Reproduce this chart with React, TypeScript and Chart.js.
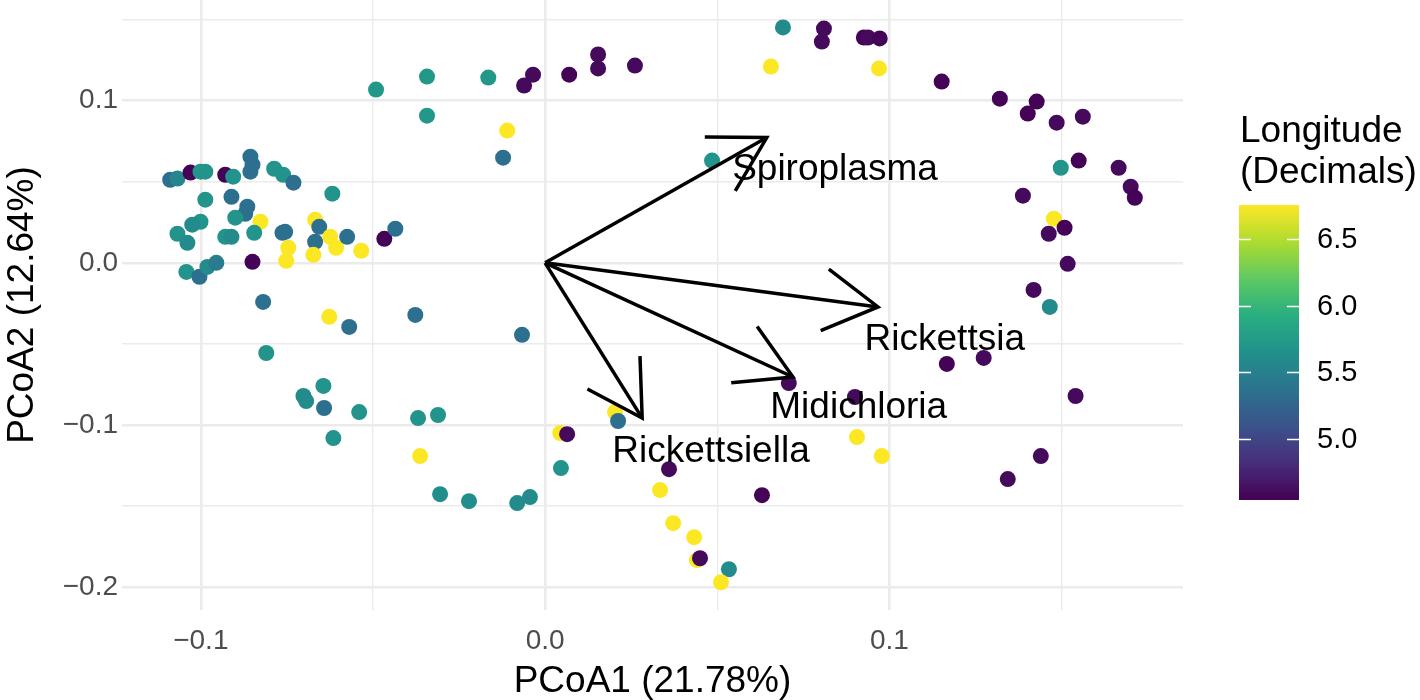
import React, { useEffect, useRef } from "react";
import { Chart, registerables } from "chart.js";

Chart.register(...registerables);

// ---- data ----
const pcoa1 = [
  -0.1089, -0.1068, -0.103, -0.1001, -0.0987, -0.0929, -0.0906, -0.0856, -0.085, -0.0856,
  -0.0787, -0.0761, -0.0731, -0.0618, -0.0987, -0.0911, -0.0865, -0.0871, -0.09, -0.0827,
  -0.1001, -0.1025, -0.1068, -0.1039, -0.0929, -0.0911, -0.0845, -0.0763, -0.0755, -0.085,
  -0.1042, -0.1004, -0.0981, -0.0955, -0.0668, -0.0656, -0.0746, -0.0752, -0.0668, -0.0673,
  -0.0624, -0.0607, -0.0575, -0.0534, -0.0467, -0.0435, -0.0819, -0.0627, -0.0569, -0.0377,
  -0.081, -0.0644, -0.0702, -0.0694, -0.0642, -0.054, -0.0615, -0.0369, -0.0311, -0.0363,
  -0.0305, -0.0221, -0.0081, -0.0044, -0.0491, -0.0343, -0.0343, -0.0165, -0.011, -0.0122,
  -0.0061, -0.0035, 0.007, 0.0154, 0.0154, 0.0261, 0.0485, 0.0691, 0.081, 0.0804,
  0.0926, 0.0938, 0.0972, 0.0656, 0.097, 0.1152, 0.1321, 0.1428, 0.1402, 0.1486,
  0.1562, 0.155, 0.1498, 0.1666, 0.1701, 0.1713, 0.1388, 0.1478, 0.1509, 0.1463,
  0.1518, 0.1419, 0.1466, 0.1167, 0.1274, 0.1541, 0.09, 0.0708, 0.0906, 0.0978,
  0.144, 0.1344, -0.0067, 0.0203, 0.0212, 0.0044, 0.0064, 0.0046, 0.036, 0.0334,
  0.063, 0.0372, 0.0433, 0.0441, 0.045, 0.0534, 0.0511,
];
const pcoa2 = [
  0.0512, 0.0519, 0.0556, 0.0562, 0.0562, 0.0543, 0.0531, 0.0654, 0.0605, 0.0562,
  0.058, 0.0543, 0.0494, 0.0426, 0.0389, 0.0407, 0.0346, 0.0302, 0.0278, 0.0253,
  0.0253, 0.0235, 0.0179, 0.0123, 0.016, 0.016, 0.0185, 0.0185, 0.0191, 0.0006,
  -0.0056, -0.0086, -0.0025, 0.0, 0.0265, 0.0222, 0.0093, 0.0012, 0.013, 0.0049,
  0.016, 0.0093, 0.016, 0.0074, 0.0148, 0.021, -0.0241, -0.0333, -0.0395, -0.0321,
  -0.0556, -0.0759, -0.0821, -0.0852, -0.0895, -0.092, -0.108, -0.0957, -0.0938, -0.1191,
  -0.1426, -0.1469, -0.1481, -0.1444, 0.1068, 0.1148, 0.0907, 0.1142, 0.0815, 0.0648,
  0.1093, 0.116, 0.116, 0.1284, 0.1198, 0.1216, 0.063, 0.1451, 0.1444, 0.1364,
  0.1389, 0.1389, 0.1383, 0.121, 0.1198, 0.1117, 0.1012, 0.0994, 0.092, 0.0864,
  0.0901, 0.063, 0.0586, 0.0586, 0.0469, 0.0401, 0.0414, 0.0272, 0.0216, 0.0179,
  -0.0006, -0.0167, -0.0272, -0.0623, -0.0586, -0.0821, -0.0827, -0.0741, -0.1074, -0.1191,
  -0.1191, -0.1333, -0.0444, -0.092, -0.0975, -0.1049, -0.1056, -0.1265, -0.1272, -0.1401,
  -0.1432, -0.1605, -0.1691, -0.1833, -0.1821, -0.1889, -0.1969,
];
const longitude = [
  5.35, 5.55, 4.56, 5.68, 5.68, 4.56, 5.68, 5.35, 5.35, 5.35,
  5.68, 5.68, 5.35, 5.68, 5.68, 5.35, 5.35, 5.35, 5.68, 6.75,
  5.68, 5.6, 5.68, 5.6, 5.68, 5.6, 5.68, 5.35, 5.35, 4.56,
  5.68, 5.35, 5.6, 5.45, 6.75, 5.35, 6.75, 6.75, 5.35, 6.75,
  6.75, 6.75, 5.35, 6.75, 4.56, 5.35, 5.35, 6.75, 5.35, 5.35,
  5.68, 5.68, 5.6, 5.6, 5.35, 5.68, 5.68, 5.68, 5.68, 6.75,
  5.62, 5.62, 5.6, 5.6, 5.72, 5.72, 5.72, 5.72, 6.75, 5.35,
  4.6, 4.6, 4.56, 4.6, 4.6, 4.6, 5.68, 5.6, 4.6, 4.6,
  4.56, 4.6, 4.56, 6.75, 6.75, 4.56, 4.56, 4.56, 4.56, 4.6,
  4.6, 4.56, 5.68, 4.6, 4.6, 4.56, 4.6, 6.75, 4.56, 4.6,
  4.6, 4.6, 5.6, 4.56, 4.6, 4.6, 4.6, 4.6, 6.75, 6.75,
  4.6, 4.6, 5.35, 6.75, 5.35, 6.75, 4.6, 5.68, 4.6, 6.75,
  4.56, 6.75, 6.75, 6.75, 4.6, 5.6, 6.75,
];

const taxa = ["Spiroplasma", "Rickettsia", "Midichloria", "Rickettsiella"];
const arrowX = [0.0644, 0.0967, 0.072, 0.0282];
const arrowY = [0.0772, -0.0272, -0.0704, -0.0957];
const labelX = [0.0842, 0.1161, 0.0911, 0.0482];
const labelY = [0.0574, -0.0475, -0.0895, -0.1167];

const xMin = -0.1229;
const xMax = 0.1853;
const yMin = -0.214;
const yMax = 0.162;

const colorMin = 4.545;
const colorMax = 6.754;
const legendTicks = [5.0, 5.5, 6.0, 6.5];
const legendTitle = ["Longitude", "(Decimals)"];

const xTitle = "PCoA1 (21.78%)";
const yTitle = "PCoA2 (12.64%)";

// viridis colormap anchors
const viridis = [
  [68, 1, 84], [71, 45, 123], [59, 82, 139], [44, 114, 142], [33, 145, 140],
  [40, 174, 128], [94, 201, 98], [173, 220, 48], [253, 231, 37],
];

function viridisColor(v: number): string {
  let t = (v - colorMin) / (colorMax - colorMin);
  t = Math.max(0, Math.min(1, t));
  const p = t * (viridis.length - 1);
  const i = Math.min(viridis.length - 2, Math.floor(p));
  const f = p - i;
  const a = viridis[i];
  const b = viridis[i + 1];
  const c = a.map((av, k) => Math.round(av + (b[k] - av) * f));
  return `rgb(${c[0]},${c[1]},${c[2]})`;
}

const FONT = "'Liberation Sans', Arial, Helvetica, sans-serif";

const isMajor = (v: number) => Math.abs(v / 0.1 - Math.round(v / 0.1)) < 1e-6;
const fmt = (v: number) => {
  if (Math.abs(v) < 1e-9) return "0.0";
  return (v < 0 ? "\u2212" : "") + Math.abs(v).toFixed(1);
};

const biplotPlugin = {
  id: "biplot",
  afterDatasetsDraw(chart: any) {
    const { ctx } = chart;
    const xs = chart.scales.x;
    const ys = chart.scales.y;
    const ox = xs.getPixelForValue(0);
    const oy = ys.getPixelForValue(0);
    ctx.save();
    ctx.strokeStyle = "#000";
    ctx.lineWidth = 3.5;
    ctx.lineCap = "butt";
    ctx.lineJoin = "miter";
    const headLen = 62;
    for (let i = 0; i < taxa.length; i++) {
      const tx = xs.getPixelForValue(arrowX[i]);
      const ty = ys.getPixelForValue(arrowY[i]);
      ctx.beginPath();
      ctx.moveTo(ox, oy);
      ctx.lineTo(tx, ty);
      ctx.stroke();
      const a = Math.atan2(ty - oy, tx - ox);
      ctx.beginPath();
      ctx.moveTo(tx - headLen * Math.cos(a - Math.PI / 6), ty - headLen * Math.sin(a - Math.PI / 6));
      ctx.lineTo(tx, ty);
      ctx.lineTo(tx - headLen * Math.cos(a + Math.PI / 6), ty - headLen * Math.sin(a + Math.PI / 6));
      ctx.stroke();
    }
    ctx.fillStyle = "#000";
    ctx.font = `37px ${FONT}`;
    ctx.textAlign = "center";
    ctx.textBaseline = "middle";
    for (let i = 0; i < taxa.length; i++) {
      ctx.fillText(taxa[i], xs.getPixelForValue(labelX[i]), ys.getPixelForValue(labelY[i]));
    }
    ctx.restore();
  },
  afterDraw(chart: any) {
    const { ctx } = chart;
    ctx.save();
    // legend title
    ctx.fillStyle = "#000";
    ctx.font = `37px ${FONT}`;
    ctx.textAlign = "left";
    ctx.textBaseline = "alphabetic";
    ctx.fillText(legendTitle[0], 1240, 142);
    ctx.fillText(legendTitle[1], 1240, 183);
    // colour bar
    const bx = 1239, bw = 60, top = 205, bottom = 500;
    const h = bottom - top;
    for (let py = 0; py < h; py++) {
      const v = colorMax - ((py + 0.5) / h) * (colorMax - colorMin);
      ctx.fillStyle = viridisColor(v);
      ctx.fillRect(bx, top + py, bw, 1);
    }
    const valToY = (v: number) => top + ((colorMax - v) / (colorMax - colorMin)) * h;
    ctx.strokeStyle = "#fff";
    ctx.lineWidth = 1.5;
    ctx.font = `29px ${FONT}`;
    ctx.textBaseline = "middle";
    for (const t of legendTicks) {
      const yy = Math.round(valToY(t)) + 0.5;
      ctx.beginPath();
      ctx.moveTo(bx, yy);
      ctx.lineTo(bx + 12, yy);
      ctx.moveTo(bx + bw - 12, yy);
      ctx.lineTo(bx + bw, yy);
      ctx.stroke();
      ctx.fillStyle = "#000";
      ctx.fillText(t.toFixed(1), 1317, yy);
    }
    ctx.restore();
  },
};

export default function App() {
  const ref = useRef<HTMLCanvasElement | null>(null);
  useEffect(() => {
    if (!ref.current) return;
    const points = pcoa1.map((x, i) => ({ x, y: pcoa2[i] }));
    const colors = longitude.map((v) => viridisColor(v));
    const gridColor = "#EBEBEB";
    const chart = new Chart(ref.current, {
      type: "scatter",
      data: {
        datasets: [
          {
            label: "samples",
            data: points,
            backgroundColor: colors,
            borderWidth: 0,
            pointRadius: 8,
            pointHoverRadius: 8,
          },
        ],
      },
      options: {
        animation: false,
        responsive: false,
        devicePixelRatio: 1,
        events: [],
        layout: { autoPadding: false, padding: { left: 0, right: 237, top: 0, bottom: 0 } },
        plugins: { legend: { display: false }, tooltip: { enabled: false } },
        scales: {
          x: {
            type: "linear",
            min: xMin,
            max: xMax,
            border: { display: false },
            grid: {
              drawTicks: false,
              color: gridColor,
              lineWidth: (c: any) => (c.tick && isMajor(c.tick.value) ? 2.6 : 1.4),
            },
            ticks: {
              stepSize: 0.05,
              includeBounds: false,
              autoSkip: false,
              maxRotation: 0,
              padding: 14,
              color: "#4D4D4D",
              font: { family: FONT, size: 28 },
              callback: (v: any) => (isMajor(Number(v)) ? fmt(Number(v)) : ""),
            },
            title: {
              display: true,
              text: xTitle,
              color: "#000",
              font: { family: FONT, size: 37, lineHeight: 1 },
              padding: { top: 0, bottom: 0 },
            },
            afterFit: (s: any) => {
              s.height = 90;
              s.paddingLeft = 0;
              s.paddingRight = 0;
            },
          },
          y: {
            type: "linear",
            min: yMin,
            max: yMax,
            border: { display: false },
            grid: {
              drawTicks: false,
              color: gridColor,
              lineWidth: (c: any) => (c.tick && isMajor(c.tick.value) ? 2.6 : 1.4),
            },
            ticks: {
              stepSize: 0.05,
              includeBounds: false,
              autoSkip: false,
              padding: 4,
              color: "#4D4D4D",
              font: { family: FONT, size: 28 },
              callback: (v: any) => (isMajor(Number(v)) ? fmt(Number(v)) : ""),
            },
            title: {
              display: true,
              text: yTitle,
              color: "#000",
              font: { family: FONT, size: 37, lineHeight: 1 },
              padding: { top: 4, bottom: 0 },
            },
            afterFit: (s: any) => {
              s.width = 122;
              s.paddingTop = 0;
              s.paddingBottom = 0;
            },
          },
        },
      },
      plugins: [biplotPlugin],
    } as any);
    return () => chart.destroy();
  }, []);
  return (
    <div style={{ position: "absolute", left: 0, top: 0, width: 1420, height: 700, background: "#fff" }}>
      <canvas ref={ref} width={1420} height={700} style={{ display: "block" }} />
    </div>
  );
}
